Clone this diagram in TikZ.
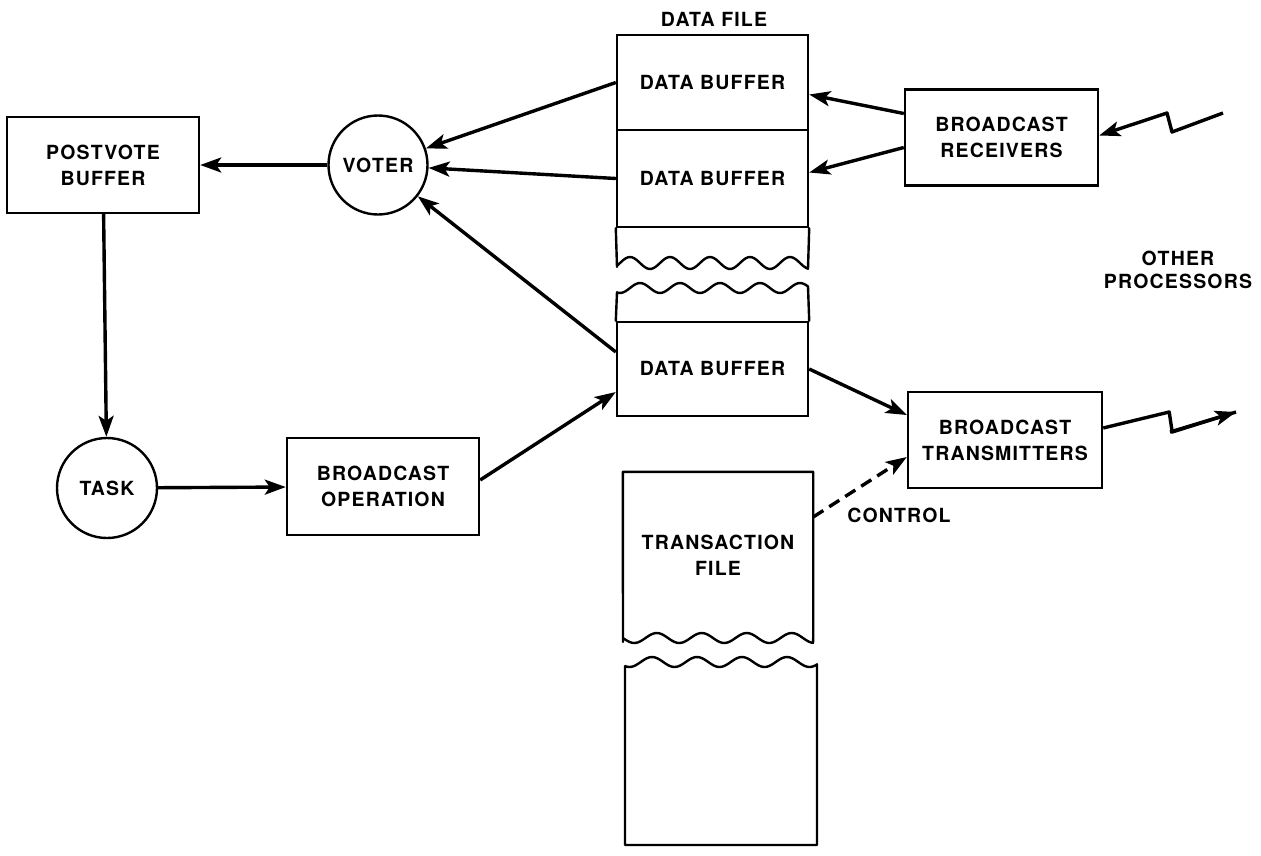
\documentclass[tikz,border=0pt]{standalone}
\usepackage{fontspec}
\usepackage{tikz}
\usetikzlibrary{arrows.meta,positioning,shapes.geometric}
\newfontfamily\diagfont{TeX Gyre Heros}[LetterSpace=6]

\begin{document}
\begin{tikzpicture}[x=1pt,y=-1pt,
  every node/.style={font=\diagfont\bfseries\fontsize{19.5}{26}\selectfont},
  box/.style={draw,line width=2.4pt,minimum width=193pt,minimum height=96pt,align=center,inner sep=0pt},
  bufbox/.style={draw,line width=2.4pt,minimum width=191pt,align=center,inner sep=0pt},
  proc/.style={draw,circle,line width=2.4pt,minimum size=99pt,inner sep=0pt},
  flow/.style={line width=3.4pt,line join=round,-{Stealth[length=21pt,width=15pt,inset=5pt]}},
  edge/.style={line width=2.4pt,line join=round,line cap=round}]
 \useasboundingbox (0,0) rectangle (1261,855);

 \node[box,minimum width=192pt] (postvote) at (103,165) {POSTVOTE\\BUFFER};
 \node[proc] (voter) at (378,165) {VOTER};
 \node[proc,minimum size=100pt] (task) at (107,488) {TASK};
 \node[box,minimum width=192pt,minimum height=97pt] (bop) at (383,486.5) {BROADCAST\\OPERATION};

 % data file
 \node (dfile) at (714,19) {DATA FILE};
 \node[bufbox,minimum height=95pt] (db1) at (712.5,82.5) {DATA BUFFER};
 \node[bufbox,minimum height=97pt] (db2) at (712.5,178.5) {DATA BUFFER};
 \node[bufbox,minimum height=94pt] (db3) at (712.5,369) {DATA BUFFER};
 \draw[edge] (db2.south west) -- (617,267) -- plot[domain=0:191,samples=90] ({617+\x},{263+6*sin(9*\x+153)}) -- (db2.south east);
 \draw[edge] (db3.north west) -- (617,292) -- plot[domain=0:191,samples=90] ({617+\x},{288+5*sin(9*\x+63)}) -- (db3.north east);

 % transaction file
 \node[minimum width=190pt,minimum height=166pt,align=center] (tfile) at (718,555) {TRANSACTION\\FILE};
 \draw[edge] (tfile.south east) -- (tfile.north east) -- (tfile.north west) -- (623,642) -- plot[domain=0:190,samples=90] ({623+\x},{638+5*sin(8*\x)}) -- (tfile.south east);
 \draw[edge] (817,664) -- (817,845) -- (625,845) -- (625,666) -- plot[domain=0:192,samples=90] ({625+\x},{662+5*sin(8*\x+54)});

 \node[box] (rx) at (1001.5,137.5) {BROADCAST\\RECEIVERS};
 \node[box,minimum width=194pt] (tx) at (1005,440) {BROADCAST\\TRANSMITTERS};
 \node (ctrl) at (899,515) {CONTROL};
 \node[align=center] (other) at (1178,270) {OTHER\\[-3pt]PROCESSORS};
 \coordinate (rxin) at (1223,113);
 \coordinate (txout) at (1236,412);

 \draw[flow] (voter) -- (postvote);
 \draw[flow] (postvote) -- (task);
 \draw[flow] (task) -- (bop);
 \draw[flow] ([yshift=6.5pt]bop.east) -- ([yshift=-23pt]db3.west);
 \draw[flow] (db1.west) -- (voter);
 \draw[flow] (db2.west) -- (voter);
 \draw[flow] ([yshift=17pt]db3.west) -- (voter);
 \draw[flow] ([yshift=24pt]rx.west) -- ([yshift=-12pt]db1.east);
 \draw[flow] ([yshift=-10pt]rx.west) -- ([yshift=6pt]db2.east);
 \draw[flow] (db3.east) -- ([yshift=25pt]tx.west);
 \draw[flow,dash pattern=on 12pt off 7pt] ([yshift=38pt]tfile.east) -- ([yshift=-17pt]tx.west);
 \draw[flow] (rxin) -- ++(-51,19) -- ++(-5,-19) -- ([yshift=2pt]rx.east);
 \draw[line width=3.4pt,line join=round] ([yshift=12pt]tx.east) -- ++(66,-16) -- ++(3,20) -- (txout);
 \draw[flow] (1170,432) -- (txout);
\end{tikzpicture}
\end{document}
